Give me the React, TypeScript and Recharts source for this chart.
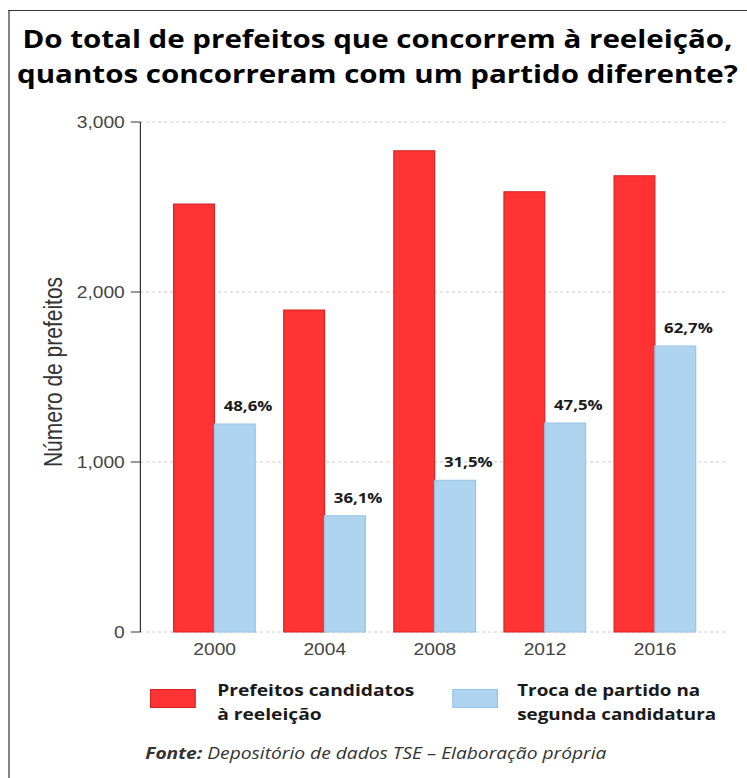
import React from 'react';
import { BarChart, Bar, XAxis, YAxis, CartesianGrid, LabelList } from 'recharts';

const years = ['2000', '2004', '2008', '2012', '2016'];
const candidatos = [2518, 1894, 2831, 2590, 2684];
const troca = [1224, 684, 892, 1230, 1683];
const percentLabels = ['48,6%', '36,1%', '31,5%', '47,5%', '62,7%'];
const yTicks = [0, 1000, 2000, 3000];

const titleLines = [
  'Do total de prefeitos que concorrem à reeleição,',
  'quantos concorreram com um partido diferente?',
];
const legendRed = ['Prefeitos candidatos', 'à reeleição'];
const legendBlue = ['Troca de partido na', 'segunda candidatura'];

const data = years.map((y, i) => ({
  year: y,
  candidatos: candidatos[i],
  troca: troca[i],
  pct: percentLabels[i],
}));

const SX = 1.2;
const INNER_W = 747 / SX;

const RED = '#FF3333';
const RED_STROKE = '#D42424';
const BLUE = '#AED4EF';
const BLUE_STROKE = '#97C4E6';

const PctLabel = (props: any) => {
  const { x, y, width, value } = props;
  return (
    <text
      x={x + width / 2 + 11}
      y={y - 13}
      textAnchor="middle"
      fontFamily="'Open Sans', sans-serif"
      fontWeight={700}
      fontSize={14}
      fill="#1a1a1a"
    >
      {value}
    </text>
  );
};

const YLabel = (props: any) => {
  const vb = props.viewBox || { x: 0, y: 122, width: 117, height: 510 };
  const cx = 51.4;
  const cy = vb.y + vb.height / 2 - 5;
  return (
    <text
      x={cx}
      y={cy}
      transform={`rotate(-90, ${cx}, ${cy})`}
      textAnchor="middle"
      fontFamily="'Liberation Sans', Arial, sans-serif"
      fontSize={21}
      fill="#333"
    >
      Número de prefeitos
    </text>
  );
};

export default function App() {
  return (
    <div
      style={{
        position: 'absolute',
        left: 0,
        top: 0,
        width: 747,
        height: 778,
        overflow: 'hidden',
        background: '#fff',
      }}
    >
      <div
        style={{
          position: 'absolute',
          left: 0,
          top: 0,
          width: INNER_W,
          height: 778,
          transform: `scaleX(${SX})`,
          transformOrigin: '0 0',
        }}
      >
        <div
          style={{
            position: 'absolute',
            left: 6.7,
            top: 10,
            width: 800,
            height: 900,
            borderTop: '1.6px solid #333',
            borderLeft: '1.6px solid #333',
            boxSizing: 'border-box',
          }}
        />
        <div
          style={{
            position: 'absolute',
            left: 0,
            top: 21,
            width: 629,
            textAlign: 'center',
            fontFamily: "'Open Sans', sans-serif",
            fontWeight: 700,
            fontSize: 24.6,
            lineHeight: '35px',
            color: '#000',
            whiteSpace: 'nowrap',
          }}
        >
          {titleLines.map((t) => (
            <div key={t}>{t}</div>
          ))}
        </div>

        <div style={{ position: 'absolute', left: 0, top: 0 }}>
          <BarChart
            width={INNER_W}
            height={680}
            data={data}
            margin={{ top: 122, right: 16.7, bottom: 18, left: 0 }}
            barGap={0}
            barCategoryGap={11.7}
          >
            <CartesianGrid vertical={false} stroke="#bdbdbd" strokeDasharray="2 3" />
            <XAxis
              dataKey="year"
              axisLine={false}
              tickLine={false}
              height={30}
              padding={{ left: 16, right: 14 }}
              tickMargin={6}
              tick={{ fontFamily: "'Liberation Sans', Arial, sans-serif", fontSize: 16, fill: '#444' }}
            />
            <YAxis
              width={117}
              domain={[0, 3000]}
              ticks={yTicks}
              interval={0}
              tickSize={8}
              tickMargin={5}
              axisLine={{ stroke: '#333' }}
              tickLine={{ stroke: '#333' }}
              tickFormatter={(v: number) => v.toLocaleString('en-US')}
              tick={{ fontFamily: "'Liberation Sans', Arial, sans-serif", fontSize: 16, fill: '#444' }}
              label={<YLabel />}
            />
            <Bar
              dataKey="candidatos"
              fill={RED}
              stroke={RED_STROKE}
              strokeWidth={1}
              isAnimationActive={false}
            />
            <Bar
              dataKey="troca"
              fill={BLUE}
              stroke={BLUE_STROKE}
              strokeWidth={1}
              isAnimationActive={false}
            >
              <LabelList dataKey="pct" content={<PctLabel />} />
            </Bar>
          </BarChart>
        </div>

        {/* Legend */}
        <div
          style={{
            position: 'absolute',
            left: 125,
            top: 689,
            width: 37.5,
            height: 19,
            background: RED,
            border: `1px solid ${RED_STROKE}`,
            boxSizing: 'border-box',
          }}
        />
        <div
          style={{
            position: 'absolute',
            left: 181,
            top: 678,
            fontFamily: "'Open Sans', sans-serif",
            fontWeight: 700,
            fontSize: 16,
            lineHeight: '24px',
            color: '#1a1a1a',
            whiteSpace: 'nowrap',
          }}
        >
          {legendRed.map((t) => (
            <div key={t}>{t}</div>
          ))}
        </div>
        <div
          style={{
            position: 'absolute',
            left: 377,
            top: 689,
            width: 37.5,
            height: 19,
            background: BLUE,
            border: `1px solid ${BLUE_STROKE}`,
            boxSizing: 'border-box',
          }}
        />
        <div
          style={{
            position: 'absolute',
            left: 431,
            top: 678,
            fontFamily: "'Open Sans', sans-serif",
            fontWeight: 700,
            fontSize: 15.7,
            lineHeight: '24px',
            color: '#1a1a1a',
            whiteSpace: 'nowrap',
          }}
        >
          {legendBlue.map((t) => (
            <div key={t}>{t}</div>
          ))}
        </div>

        {/* Source */}
        <div
          style={{
            position: 'absolute',
            left: 121,
            top: 741,
            fontFamily: "'Open Sans', sans-serif",
            fontStyle: 'italic',
            fontSize: 16,
            lineHeight: '24px',
            color: '#333',
            whiteSpace: 'nowrap',
          }}
        >
          <span style={{ fontWeight: 700 }}>Fonte:</span> Depositório de dados TSE – Elaboração própria
        </div>
      </div>
    </div>
  );
}
